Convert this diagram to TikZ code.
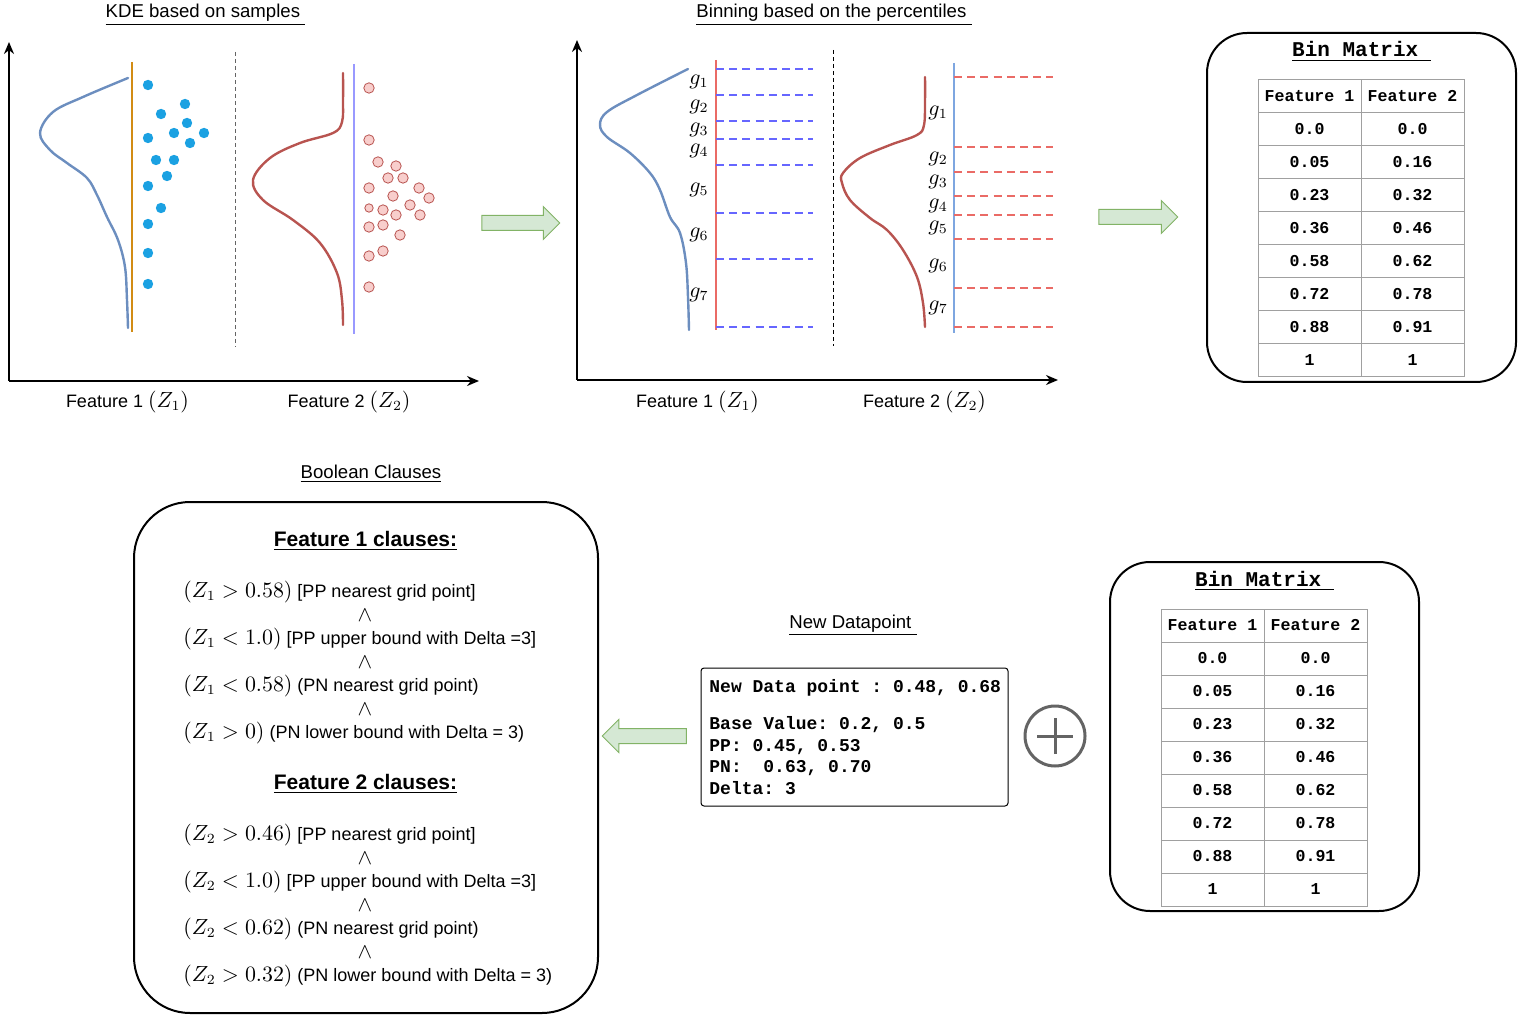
\documentclass[tikz,border=0pt]{standalone}
\usepackage[no-math]{fontspec}
\setmainfont{Liberation Sans}
\setmonofont{Liberation Mono}
\usepackage{amsmath,amssymb}
\usetikzlibrary{arrows.meta,shapes.arrows,positioning}

\definecolor{kdeblue}{RGB}{108,142,191}
\definecolor{kdered}{RGB}{184,84,80}
\definecolor{dotblue}{RGB}{27,161,226}
\definecolor{dotpink}{RGB}{248,206,204}
\definecolor{lineorange}{RGB}{210,140,20}
\definecolor{linelav}{RGB}{153,153,255}
\definecolor{gridred}{RGB}{234,107,102}
\definecolor{gridblue}{RGB}{102,102,255}
\definecolor{lineblue}{RGB}{126,166,224}
\definecolor{arrowgreen}{RGB}{130,179,102}
\definecolor{arrowfill}{RGB}{213,232,212}
\definecolor{cellgrey}{RGB}{160,160,160}
\definecolor{plusgrey}{RGB}{100,100,100}

\newcommand{\mz}[1]{{\fontsize{10.5}{12}\selectfont$#1$}}

\tikzset{
  axis/.style={line width=1pt,-{Stealth[length=6pt,width=5pt]}},
  kde/.style={line width=1.2pt,line cap=round},
  bdot/.style={circle,fill=dotblue,inner sep=0pt,minimum size=5.2pt},
  pdot/.style={circle,draw=kdered,fill=dotpink,line width=0.4pt,inner sep=0pt,minimum size=5.2pt},
  divider/.style={line width=0.5pt,dash pattern=on 2pt off 1.5pt},
  gridline/.style={line width=0.7pt,dash pattern=on 4pt off 2.6pt},
  fatarrow/.style={single arrow,draw=arrowgreen,fill=arrowfill,line width=0.5pt,
    inner sep=3.5pt,minimum width=16pt,single arrow head extend=4.5pt},
  title/.style={anchor=base,font=\fontsize{9.3}{11}\selectfont},
  matbox/.style={draw,line width=1pt,rounded corners=20pt,minimum width=154.5pt,minimum height=174.5pt},
  mattitle/.style={anchor=base,font=\fontsize{10.5}{12}\selectfont\ttfamily\bfseries},
  cell/.style={font=\fontsize{8.3}{10}\selectfont\ttfamily\bfseries},
  clause/.style={anchor=west,inner xsep=0pt},
  clausehead/.style={anchor=base,font=\fontsize{10.5}{12}\selectfont\bfseries}
}

\begin{document}
\begin{tikzpicture}[x=0.5pt,y=-0.5pt,every node/.style={font=\fontsize{9}{10.8}\selectfont}]
\useasboundingbox (0,0) rectangle (1518,1015);

% KDE panel
\node[title] (kdetitle) at (205.5,18) {\underline{KDE based on samples\ }};
\draw[axis] (9,381) -- (9,42);
\draw[axis] (9,381) -- (479,381);
\draw[lineorange,line width=1pt] (132,62) -- (132,332);
\draw[kde,kdeblue] plot[smooth,tension=0.6] coordinates {(128,78) (83,97) (53,112) (40,133) (50,150) (67,163) (87,178) (97,195) (107,217) (118,240) (125,267) (127,300) (128,328)};
\foreach \x/\y [count=\i] in {148/85,185/104,161/114,187/123,148/138,174/133,204/133,190/143,156/160,174/160,167/176,148/186,161/208,148/224,148/253,148/284}
  \node[bdot] (b\i) at (\x,\y) {};
\draw[divider,plusgrey] (235,52) -- (235,347);
\draw[kde,kdered] plot[smooth,tension=0.6] coordinates {(343,73) (343,100) (342,122) (333,133) (300,143) (270,158) (253,180) (263,200) (293,220) (320,243) (337,273) (342,300) (343,325)};
\draw[linelav,line width=0.8pt] (354,64) -- (354,334);
\foreach \x/\y [count=\i] in {369/88,369/140,378/162,396/166,388/178,403/178,369/188,419/188,393/196,429/198,410/205,383/210,396/215,420/215,369/227,383/225,400/235,369/256,383/251,369/287}
  \node[pdot] (p\i) at (\x,\y) {};
\node[pdot,minimum size=4.2pt] (p21) at (369,208) {};
\node (f1a) at (127.5,402) {Feature 1 \mz{(Z_1)}};
\node (f2a) at (349,402) {Feature 2 \mz{(Z_2)}};

\node[fatarrow,minimum height=39pt] (arr1) at (517,223) {};

% binning panel
\node[title] (bintitle) at (834,18) {\underline{Binning based on the percentiles\ }};
\draw[axis] (577,380) -- (577,40);
\draw[axis] (577,380) -- (1058,380);
\draw[kde,kdeblue] plot[smooth,tension=0.6] coordinates {(688,69) (637,95) (607,112) (600,125) (607,137) (630,153) (650,173) (660,190) (670,217) (680,233) (686,263) (688,297) (689,330)};
\draw[gridred,line width=1pt] (716,60) -- (716,330);
\foreach \y in {69,95,121,139,165,213,259,327}
  \draw[gridline,gridblue] (716,\y) -- (813,\y);
\foreach \y [count=\i] in {82,107,130,151,190,235,295}
  \node (ga\i) at (699,\y) {\mz{g_{\i}}};
\draw[divider,black] (833,50) -- (833,346);
\draw[kde,kdered] plot[smooth,tension=0.6] coordinates {(925,77) (925,100) (924,125) (917,135) (890,145) (860,158) (843,173) (842,183) (850,200) (870,218) (887,230) (903,250) (917,277) (923,303) (925,327)};
\draw[lineblue,line width=1pt] (954,63) -- (954,333);
\foreach \y in {77,147,172,196,215,239,288,327}
  \draw[gridline,gridred] (954,\y) -- (1053,\y);
\foreach \y [count=\i] in {113,159,182,206,228,266,308}
  \node (gb\i) at (938,\y) {\mz{g_{\i}}};
\node (f1b) at (697.5,402) {Feature 1 \mz{(Z_1)}};
\node (f2b) at (924.5,402) {Feature 2 \mz{(Z_2)}};

\node[fatarrow,minimum height=39.5pt] (arr2) at (1134.5,217) {};

% bin matrices
\foreach \ox/\oy/\nm in {1207/33/top,1110/562/bot}{
  \node[matbox] (\nm-box) at (\ox+154.5,\oy+174.5) {};
  \node[mattitle] (\nm-title) at (\ox+154.5,\oy+24) {\underline{Bin Matrix\ }};
  \draw[cellgrey,line width=0.5pt] (\ox+51,\oy+47) rectangle (\ox+257,\oy+344);
  \draw[cellgrey,line width=0.5pt] (\ox+154,\oy+47) -- (\ox+154,\oy+344);
  \foreach \k in {1,...,8}
    \draw[cellgrey,line width=0.5pt] (\ox+51,{\oy+47+\k*33}) -- (\ox+257,{\oy+47+\k*33});
  \node[cell] (\nm-h1) at (\ox+102.5,\oy+63.5) {Feature 1};
  \node[cell] (\nm-h2) at (\ox+205.5,\oy+63.5) {Feature 2};
  \foreach \a/\b [count=\r] in {0.0/0.0,0.05/0.16,0.23/0.32,0.36/0.46,0.58/0.62,0.72/0.78,0.88/0.91,1/1}{
    \node[cell] (\nm-a\r) at (\ox+102.5,{\oy+63.5+\r*33}) {\a};
    \node[cell] (\nm-b\r) at (\ox+205.5,{\oy+63.5+\r*33}) {\b};
  }
}

% new datapoint
\node[title] (dptitle) at (853,628) {\underline{New Datapoint\ }};
\node[draw,line width=0.5pt,rounded corners=1.5pt,minimum width=153.5pt,minimum height=69pt] (dp) at (854.5,737) {};
\node[anchor=north west,align=left,inner sep=0pt,font=\fontsize{9}{10.85}\selectfont\ttfamily\bfseries] (dptext) at (709,679)
  {New Data point : 0.48, 0.68\\[7.6pt]Base Value: 0.2, 0.5\\PP: 0.45, 0.53\\PN:\ \ 0.63, 0.70\\Delta: 3};
\node[circle,draw=plusgrey,line width=1.5pt,minimum size=30pt,inner sep=0pt] (plus) at (1055,736) {};
\draw[plusgrey,line width=1.5pt] ([xshift=-9pt]plus.center) -- ([xshift=9pt]plus.center);
\draw[plusgrey,line width=1.5pt] ([yshift=-9pt]plus.center) -- ([yshift=9pt]plus.center);

\node[fatarrow,minimum height=42pt,shape border rotate=180] (arr3) at (648,736) {};

% boolean clauses
\node[title] (booltitle) at (371,478) {\underline{Boolean Clauses}};
\node[draw,line width=1pt,rounded corners=28pt,minimum width=232pt,minimum height=255.5pt] (boolbox) at (366,757.5) {};
\node[clausehead] (h1) at (365.5,546) {\underline{Feature 1 clauses:}};
\node[clause] (c11) at (183,592) {\mz{(Z_1 > 0.58)} [PP nearest grid point]};
\node[clause] (c12) at (183,639) {\mz{(Z_1 < 1.0)} [PP upper bound with Delta =3]};
\node[clause] (c13) at (183,686) {\mz{(Z_1 < 0.58)} (PN nearest grid point)};
\node[clause] (c14) at (183,733) {\mz{(Z_1 > 0)} (PN lower bound with Delta = 3)};
\node[clausehead] (h2) at (365.5,789) {\underline{Feature 2 clauses:}};
\node[clause] (c21) at (183,835) {\mz{(Z_2 > 0.46)} [PP nearest grid point]};
\node[clause] (c22) at (183,882) {\mz{(Z_2 < 1.0)} [PP upper bound with Delta =3]};
\node[clause] (c23) at (183,929) {\mz{(Z_2 < 0.62)} (PN nearest grid point)};
\node[clause] (c24) at (183,976) {\mz{(Z_2 > 0.32)} (PN lower bound with Delta = 3)};
\foreach \y [count=\i] in {615,662,709,858,905,952}
  \node (w\i) at (365,\y) {\mz{\wedge}};
\end{tikzpicture}
\end{document}
